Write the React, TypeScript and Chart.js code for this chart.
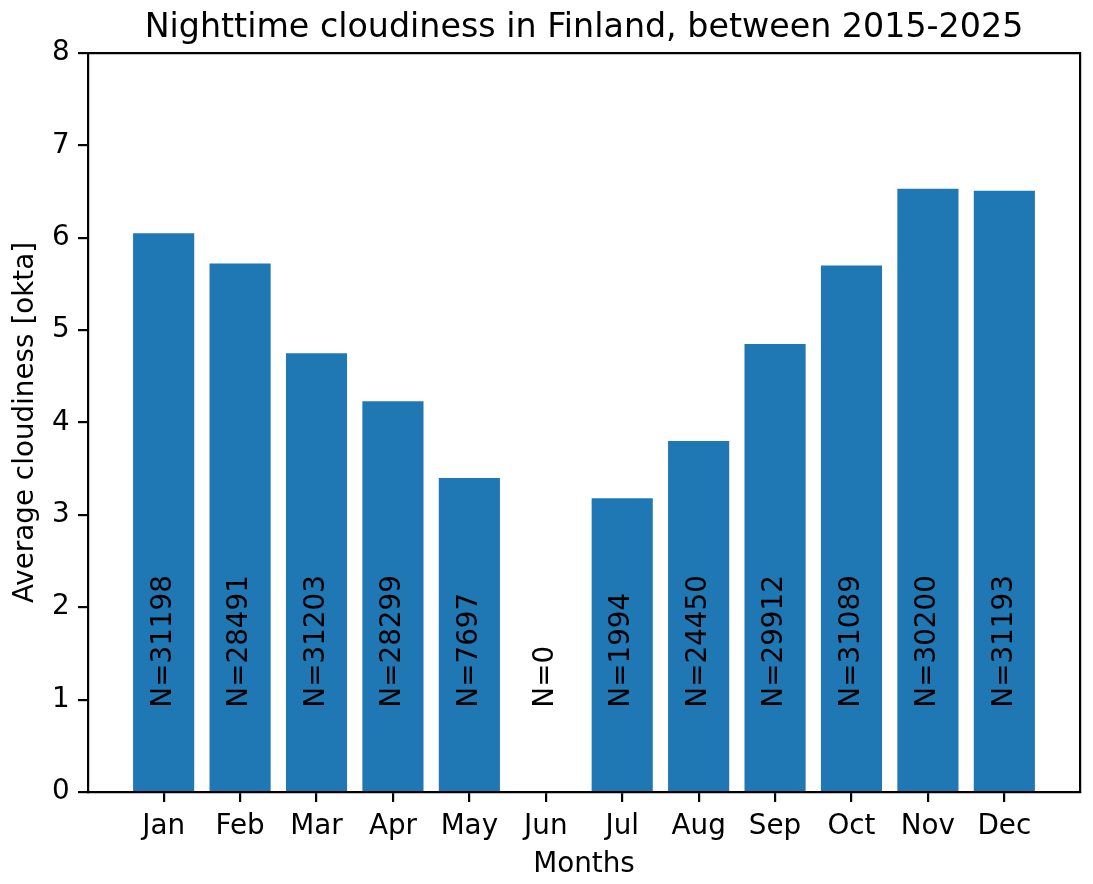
import { useEffect, useRef } from "react";
import { Chart, registerables, Plugin } from "chart.js";

Chart.register(...registerables);

// Monthly averages
const months = ["Jan", "Feb", "Mar", "Apr", "May", "Jun", "Jul", "Aug", "Sep", "Oct", "Nov", "Dec"];
const cloudiness = [6.05, 5.72, 4.75, 4.23, 3.4, 0, 3.18, 3.8, 4.85, 5.7, 6.53, 6.51];
const counts = [31198, 28491, 31203, 28299, 7697, 0, 1994, 24450, 29912, 31089, 30200, 31193];
const yTicks = [0, 1, 2, 3, 4, 5, 6, 7, 8];

const FONT = "'DejaVu Sans', sans-serif";
const BLUE = "#1f77b4";
const LINE = 2.2;

// writes the N=... counts vertically inside each bar, starting at y = 1
const countLabels: Plugin<"bar"> = {
  id: "countLabels",
  afterDatasetsDraw(chart) {
    const { ctx, scales } = chart;
    const x = scales.x;
    const y = scales.y;
    ctx.save();
    ctx.font = "27.8px " + FONT;
    ctx.fillStyle = "#000";
    ctx.textAlign = "left";
    ctx.textBaseline = "middle";
    counts.forEach((n, i) => {
      const px = x.getPixelForValue(i);
      const py = y.getPixelForValue(1) + 8;
      ctx.save();
      ctx.translate(px, py);
      ctx.rotate(-Math.PI / 2);
      ctx.fillText("N=" + n, 0, 0);
      ctx.restore();
    });
    ctx.restore();
  },
};

export default function App() {
  const canvasRef = useRef<HTMLCanvasElement | null>(null);

  useEffect(() => {
    if (!canvasRef.current) return;
    Chart.defaults.font.family = FONT;
    Chart.defaults.color = "#000";

    const chart = new Chart(canvasRef.current, {
      type: "bar",
      data: {
        datasets: [
          {
            data: months.map((_, i) => ({ x: i, y: cloudiness[i] })),
            backgroundColor: BLUE,
            borderWidth: 0,
            barPercentage: 0.8,
            categoryPercentage: 1,
          },
        ],
      },
      options: {
        animation: false,
        responsive: false,
        devicePixelRatio: 1,
        layout: { padding: { left: 0, right: 13, top: 0, bottom: 0 } },
        plugins: {
          legend: { display: false },
          tooltip: { enabled: false },
          title: {
            display: true,
            fullSize: false,
            text: "Nighttime cloudiness in Finland, between 2015-2025",
            color: "#000",
            font: { size: 33.3, weight: "normal", lineHeight: 1 },
            padding: { top: 12, bottom: 7.7 },
          },
        },
        scales: {
          x: {
            type: "linear",
            position: "bottom",
            offset: false,
            min: -0.99,
            max: 11.99,
            afterBuildTicks: (scale) => {
              scale.ticks = months.map((_, i) => ({ value: i }));
            },
            afterFit: (scale) => {
              scale.height = 92;
            },
            grid: {
              display: true,
              offset: false,
              drawOnChartArea: false,
              drawTicks: true,
              tickLength: 10,
              lineWidth: LINE,
              color: "#000",
            },
            border: { display: true, color: "#000", width: LINE },
            ticks: {
              autoSkip: false,
              maxRotation: 0,
              padding: 10.5,
              font: { size: 27.8, lineHeight: 1 },
              color: "#000",
              callback: (v) => months[Number(v)] ?? "",
            },
            title: {
              display: true,
              text: "Months",
              color: "#000",
              font: { size: 27.8, lineHeight: 1 },
              padding: { top: 0, bottom: 5.5 },
            },
          },
          y: {
            type: "linear",
            position: "left",
            min: 0,
            max: 8,
            afterBuildTicks: (scale) => {
              scale.ticks = yTicks.map((v) => ({ value: v }));
            },
            afterFit: (scale) => {
              scale.width = 88;
            },
            grid: {
              display: true,
              drawOnChartArea: false,
              drawTicks: true,
              tickLength: 10,
              lineWidth: LINE,
              color: "#000",
            },
            border: { display: true, color: "#000", width: LINE },
            ticks: {
              padding: 8.3,
              font: { size: 27.8, lineHeight: 1 },
              color: "#000",
            },
            title: {
              display: true,
              text: "Average cloudiness [okta]",
              color: "#000",
              font: { size: 27.8, lineHeight: 1 },
              padding: { top: 11.5, bottom: 0 },
            },
          },
          // top and right spines
          xTop: {
            type: "linear",
            position: "top",
            afterFit: (scale) => {
              scale.height = 0;
            },
            grid: { display: true, drawOnChartArea: false, drawTicks: false },
            border: { display: true, color: "#000", width: LINE },
            ticks: { display: false },
          },
          yRight: {
            type: "linear",
            position: "right",
            afterFit: (scale) => {
              scale.width = 0;
            },
            grid: { display: true, drawOnChartArea: false, drawTicks: false },
            border: { display: true, color: "#000", width: LINE },
            ticks: { display: false },
          },
        },
      },
      plugins: [countLabels],
    });

    return () => {
      chart.destroy();
    };
  }, []);

  return (
    <div style={{ position: "absolute", left: 0, top: 0, width: 1093, height: 884, background: "#fff" }}>
      <canvas ref={canvasRef} width={1093} height={884} style={{ display: "block" }} />
    </div>
  );
}
